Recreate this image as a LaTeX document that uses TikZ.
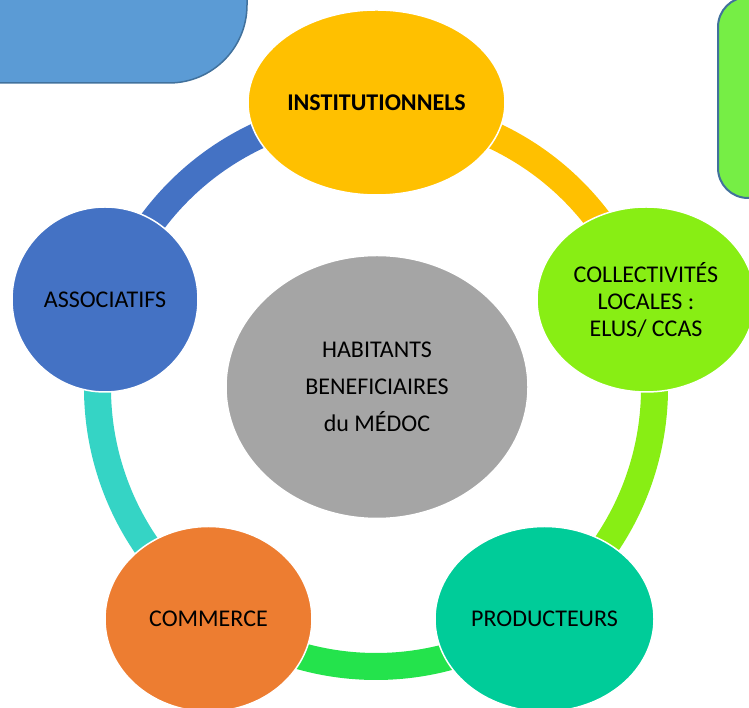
\documentclass[tikz,border=0pt]{standalone}
\usepackage{fontspec}
\setmainfont{Carlito}
\usetikzlibrary{shapes.geometric}
\definecolor{cgray}{HTML}{A5A5A5}
\definecolor{cyellow}{HTML}{FFC000}
\definecolor{clime}{HTML}{88EE14}
\definecolor{cteal}{HTML}{00CC99}
\definecolor{corange}{HTML}{ED7D31}
\definecolor{cblue}{HTML}{4472C4}
\definecolor{cgreen}{HTML}{24E34C}
\definecolor{ccyan}{HTML}{35D4C5}
\definecolor{boxblue}{HTML}{5B9BD5}
\definecolor{boxgreen}{HTML}{76EE45}
\definecolor{boxedge}{HTML}{41719C}
\tikzset{bubble/.style={ellipse, draw=white, line width=1.5pt, inner sep=0pt,
    align=center, minimum height=185pt, font=\fontsize{24}{29}\selectfont}}
\tikzset{ringarc/.style={line width=27pt}}

\begin{document}
\begin{tikzpicture}[x=1pt,y=1pt]
  \useasboundingbox (0,0) rectangle (749,708);
  \clip (0,0) rectangle (749,708);
  % boxes cut by the page edge
  \draw[fill=boxblue, draw=boxedge, line width=1.5pt, rounded corners=78pt] (-120,625) rectangle (247,820);
  \draw[fill=boxgreen, draw=boxedge, line width=2pt, rounded corners=30pt] (718,510) rectangle (820,711);
  % the ring
  \coordinate (ring) at (376,320);
  \draw[ringarc, cblue] (ring)++(162:278.5pt) arc[start angle=162, end angle=90, radius=278.5pt];
  \draw[ringarc, cyellow] (ring)++(90:278.5pt) arc[start angle=90, end angle=18, radius=278.5pt];
  \draw[ringarc, clime] (ring)++(18:278.5pt) arc[start angle=18, end angle=-54, radius=278.5pt];
  \draw[ringarc, cgreen] (ring)++(-54:278.5pt) arc[start angle=-54, end angle=-126, radius=278.5pt];
  \draw[ringarc, ccyan] (ring)++(-126:278.5pt) arc[start angle=-126, end angle=-198, radius=278.5pt];
  % bubbles
  \node[bubble, fill=cgray, minimum width=302pt, minimum height=263pt,
    font=\fontsize{24}{37}\selectfont] (habitants) at (377,321)
    {HABITANTS\\BENEFICIAIRES\\du MÉDOC};
  \node[bubble, fill=cyellow, minimum width=257pt] (institutionnels) at (376.5,605.5)
    {\bfseries INSTITUTIONNELS};
  \node[bubble, fill=clime, minimum width=218pt, font=\fontsize{24}{27}\selectfont]
    (collectivites) at (646,408.5) {COLLECTIVITÉS\\LOCALES :\\ELUS/ CCAS};
  \node[bubble, fill=cteal, minimum width=219pt] (producteurs) at (544.5,89) {PRODUCTEURS};
  \node[bubble, fill=corange, minimum width=207pt] (commerce) at (208.5,89) {COMMERCE};
  \node[bubble, fill=cblue, minimum width=186pt] (associatifs) at (105,408.5) {ASSOCIATIFS};
\end{tikzpicture}
\end{document}
